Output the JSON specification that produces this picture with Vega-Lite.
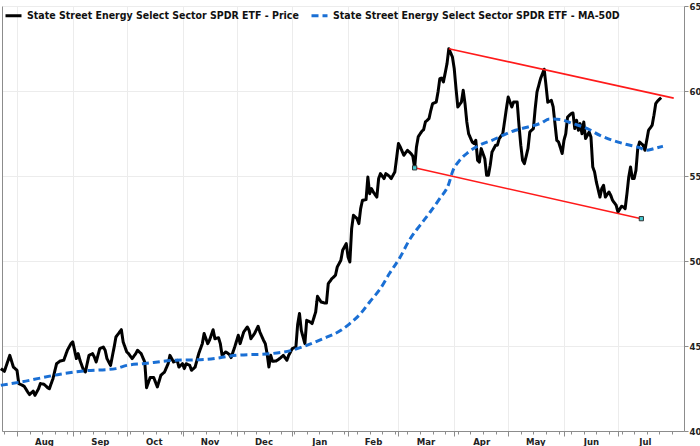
{
  "$schema": "https://vega.github.io/schema/vega-lite/v6.json",
  "width": 682,
  "height": 425,
  "autosize": {"type": "none"},
  "padding": {"left": 2, "top": 6, "right": 16, "bottom": 15},
  "background": "white",
  "config": {
    "view": {"stroke": null},
    "axis": {
      "labelFont": "DejaVu Sans Condensed, Liberation Sans, sans-serif",
      "labelFontWeight": "bold",
      "labelFontSize": 9.5,
      "labelColor": "#222",
      "domainColor": "#8c8c8c",
      "tickColor": "#8c8c8c",
      "gridColor": "#ececec",
      "title": null
    },
    "legend": {
      "orient": "none",
      "legendX": 2,
      "legendY": 0,
      "direction": "horizontal",
      "symbolType": "stroke",
      "symbolSize": 256,
      "symbolStrokeWidth": 3,
      "labelFont": "DejaVu Sans Condensed, Liberation Sans, sans-serif",
      "labelFontWeight": "bold",
      "labelFontSize": 10.5,
      "labelColor": "#111",
      "labelLimit": 600,
      "labelOffset": 4,
      "columnPadding": 6,
      "padding": 0
    }
  },
  "datasets": {
    "series": [
      {"s": "Price", "date": "2025-07-23", "value": 43.67},
      {"s": "Price", "date": "2025-07-25", "value": 43.51},
      {"s": "Price", "date": "2025-07-28", "value": 44.45},
      {"s": "Price", "date": "2025-07-30", "value": 43.76},
      {"s": "Price", "date": "2025-08-01", "value": 43.57},
      {"s": "Price", "date": "2025-08-02", "value": 42.79},
      {"s": "Price", "date": "2025-08-04", "value": 42.69},
      {"s": "Price", "date": "2025-08-05", "value": 42.63},
      {"s": "Price", "date": "2025-08-07", "value": 42.29},
      {"s": "Price", "date": "2025-08-08", "value": 42.14},
      {"s": "Price", "date": "2025-08-10", "value": 42.35},
      {"s": "Price", "date": "2025-08-11", "value": 42.10},
      {"s": "Price", "date": "2025-08-13", "value": 42.49},
      {"s": "Price", "date": "2025-08-14", "value": 42.79},
      {"s": "Price", "date": "2025-08-16", "value": 42.75},
      {"s": "Price", "date": "2025-08-18", "value": 42.55},
      {"s": "Price", "date": "2025-08-19", "value": 42.49},
      {"s": "Price", "date": "2025-08-21", "value": 43.08},
      {"s": "Price", "date": "2025-08-23", "value": 43.96},
      {"s": "Price", "date": "2025-08-25", "value": 44.12},
      {"s": "Price", "date": "2025-08-27", "value": 44.16},
      {"s": "Price", "date": "2025-08-29", "value": 44.75},
      {"s": "Price", "date": "2025-08-31", "value": 45.14},
      {"s": "Price", "date": "2025-09-01", "value": 45.24},
      {"s": "Price", "date": "2025-09-03", "value": 44.26},
      {"s": "Price", "date": "2025-09-04", "value": 44.55},
      {"s": "Price", "date": "2025-09-05", "value": 44.16},
      {"s": "Price", "date": "2025-09-07", "value": 43.57},
      {"s": "Price", "date": "2025-09-08", "value": 43.47},
      {"s": "Price", "date": "2025-09-10", "value": 44.45},
      {"s": "Price", "date": "2025-09-12", "value": 44.55},
      {"s": "Price", "date": "2025-09-13", "value": 44.35},
      {"s": "Price", "date": "2025-09-14", "value": 44.06},
      {"s": "Price", "date": "2025-09-16", "value": 44.85},
      {"s": "Price", "date": "2025-09-18", "value": 44.94},
      {"s": "Price", "date": "2025-09-19", "value": 44.75},
      {"s": "Price", "date": "2025-09-20", "value": 44.26},
      {"s": "Price", "date": "2025-09-22", "value": 43.86},
      {"s": "Price", "date": "2025-09-24", "value": 44.94},
      {"s": "Price", "date": "2025-09-25", "value": 45.53},
      {"s": "Price", "date": "2025-09-28", "value": 45.96},
      {"s": "Price", "date": "2025-09-29", "value": 45.24},
      {"s": "Price", "date": "2025-10-01", "value": 44.65},
      {"s": "Price", "date": "2025-10-02", "value": 44.55},
      {"s": "Price", "date": "2025-10-04", "value": 44.26},
      {"s": "Price", "date": "2025-10-06", "value": 44.55},
      {"s": "Price", "date": "2025-10-07", "value": 44.75},
      {"s": "Price", "date": "2025-10-09", "value": 44.55},
      {"s": "Price", "date": "2025-10-11", "value": 44.06},
      {"s": "Price", "date": "2025-10-12", "value": 42.55},
      {"s": "Price", "date": "2025-10-14", "value": 43.14},
      {"s": "Price", "date": "2025-10-16", "value": 43.14},
      {"s": "Price", "date": "2025-10-18", "value": 42.59},
      {"s": "Price", "date": "2025-10-20", "value": 43.28},
      {"s": "Price", "date": "2025-10-22", "value": 43.47},
      {"s": "Price", "date": "2025-10-24", "value": 43.96},
      {"s": "Price", "date": "2025-10-25", "value": 44.45},
      {"s": "Price", "date": "2025-10-27", "value": 44.06},
      {"s": "Price", "date": "2025-10-29", "value": 44.16},
      {"s": "Price", "date": "2025-10-30", "value": 43.76},
      {"s": "Price", "date": "2025-11-01", "value": 43.96},
      {"s": "Price", "date": "2025-11-02", "value": 43.67},
      {"s": "Price", "date": "2025-11-03", "value": 43.96},
      {"s": "Price", "date": "2025-11-05", "value": 43.86},
      {"s": "Price", "date": "2025-11-06", "value": 43.57},
      {"s": "Price", "date": "2025-11-08", "value": 43.76},
      {"s": "Price", "date": "2025-11-10", "value": 44.55},
      {"s": "Price", "date": "2025-11-12", "value": 45.14},
      {"s": "Price", "date": "2025-11-13", "value": 45.73},
      {"s": "Price", "date": "2025-11-15", "value": 45.14},
      {"s": "Price", "date": "2025-11-16", "value": 45.34},
      {"s": "Price", "date": "2025-11-18", "value": 45.96},
      {"s": "Price", "date": "2025-11-19", "value": 45.43},
      {"s": "Price", "date": "2025-11-21", "value": 45.49},
      {"s": "Price", "date": "2025-11-22", "value": 45.14},
      {"s": "Price", "date": "2025-11-23", "value": 44.45},
      {"s": "Price", "date": "2025-11-25", "value": 44.65},
      {"s": "Price", "date": "2025-11-27", "value": 44.51},
      {"s": "Price", "date": "2025-11-28", "value": 44.32},
      {"s": "Price", "date": "2025-11-30", "value": 44.94},
      {"s": "Price", "date": "2025-12-02", "value": 45.63},
      {"s": "Price", "date": "2025-12-03", "value": 45.14},
      {"s": "Price", "date": "2025-12-05", "value": 45.82},
      {"s": "Price", "date": "2025-12-07", "value": 46.12},
      {"s": "Price", "date": "2025-12-08", "value": 45.92},
      {"s": "Price", "date": "2025-12-09", "value": 45.43},
      {"s": "Price", "date": "2025-12-11", "value": 45.73},
      {"s": "Price", "date": "2025-12-13", "value": 46.16},
      {"s": "Price", "date": "2025-12-14", "value": 45.82},
      {"s": "Price", "date": "2025-12-16", "value": 45.34},
      {"s": "Price", "date": "2025-12-17", "value": 45.14},
      {"s": "Price", "date": "2025-12-18", "value": 44.55},
      {"s": "Price", "date": "2025-12-19", "value": 43.76},
      {"s": "Price", "date": "2025-12-20", "value": 44.45},
      {"s": "Price", "date": "2025-12-21", "value": 44.10},
      {"s": "Price", "date": "2025-12-23", "value": 44.12},
      {"s": "Price", "date": "2025-12-25", "value": 44.26},
      {"s": "Price", "date": "2025-12-27", "value": 44.45},
      {"s": "Price", "date": "2025-12-29", "value": 44.16},
      {"s": "Price", "date": "2025-12-30", "value": 44.45},
      {"s": "Price", "date": "2026-01-01", "value": 44.85},
      {"s": "Price", "date": "2026-01-03", "value": 44.94},
      {"s": "Price", "date": "2026-01-04", "value": 46.28},
      {"s": "Price", "date": "2026-01-05", "value": 46.91},
      {"s": "Price", "date": "2026-01-06", "value": 45.92},
      {"s": "Price", "date": "2026-01-08", "value": 45.14},
      {"s": "Price", "date": "2026-01-09", "value": 46.51},
      {"s": "Price", "date": "2026-01-11", "value": 46.41},
      {"s": "Price", "date": "2026-01-12", "value": 46.32},
      {"s": "Price", "date": "2026-01-14", "value": 47.00},
      {"s": "Price", "date": "2026-01-15", "value": 47.92},
      {"s": "Price", "date": "2026-01-17", "value": 47.59},
      {"s": "Price", "date": "2026-01-19", "value": 47.53},
      {"s": "Price", "date": "2026-01-20", "value": 47.53},
      {"s": "Price", "date": "2026-01-21", "value": 48.67},
      {"s": "Price", "date": "2026-01-23", "value": 48.96},
      {"s": "Price", "date": "2026-01-25", "value": 49.16},
      {"s": "Price", "date": "2026-01-26", "value": 49.65},
      {"s": "Price", "date": "2026-01-28", "value": 50.04},
      {"s": "Price", "date": "2026-01-29", "value": 50.63},
      {"s": "Price", "date": "2026-01-31", "value": 51.02},
      {"s": "Price", "date": "2026-02-01", "value": 50.24},
      {"s": "Price", "date": "2026-02-02", "value": 49.94},
      {"s": "Price", "date": "2026-02-03", "value": 51.91},
      {"s": "Price", "date": "2026-02-04", "value": 52.69},
      {"s": "Price", "date": "2026-02-06", "value": 52.49},
      {"s": "Price", "date": "2026-02-07", "value": 52.20},
      {"s": "Price", "date": "2026-02-08", "value": 53.08},
      {"s": "Price", "date": "2026-02-09", "value": 53.57},
      {"s": "Price", "date": "2026-02-11", "value": 53.61},
      {"s": "Price", "date": "2026-02-12", "value": 54.94},
      {"s": "Price", "date": "2026-02-13", "value": 53.96},
      {"s": "Price", "date": "2026-02-14", "value": 54.26},
      {"s": "Price", "date": "2026-02-15", "value": 54.06},
      {"s": "Price", "date": "2026-02-17", "value": 53.76},
      {"s": "Price", "date": "2026-02-18", "value": 54.85},
      {"s": "Price", "date": "2026-02-19", "value": 55.14},
      {"s": "Price", "date": "2026-02-21", "value": 54.85},
      {"s": "Price", "date": "2026-02-22", "value": 55.14},
      {"s": "Price", "date": "2026-02-24", "value": 54.98},
      {"s": "Price", "date": "2026-02-25", "value": 54.85},
      {"s": "Price", "date": "2026-02-27", "value": 55.24},
      {"s": "Price", "date": "2026-03-01", "value": 56.91},
      {"s": "Price", "date": "2026-03-02", "value": 56.71},
      {"s": "Price", "date": "2026-03-04", "value": 56.22},
      {"s": "Price", "date": "2026-03-06", "value": 56.51},
      {"s": "Price", "date": "2026-03-08", "value": 56.32},
      {"s": "Price", "date": "2026-03-09", "value": 56.16},
      {"s": "Price", "date": "2026-03-10", "value": 55.48},
      {"s": "Price", "date": "2026-03-11", "value": 56.69},
      {"s": "Price", "date": "2026-03-12", "value": 57.31},
      {"s": "Price", "date": "2026-03-14", "value": 57.63},
      {"s": "Price", "date": "2026-03-15", "value": 57.73},
      {"s": "Price", "date": "2026-03-16", "value": 58.18},
      {"s": "Price", "date": "2026-03-18", "value": 58.38},
      {"s": "Price", "date": "2026-03-19", "value": 58.86},
      {"s": "Price", "date": "2026-03-20", "value": 59.26},
      {"s": "Price", "date": "2026-03-22", "value": 59.35},
      {"s": "Price", "date": "2026-03-23", "value": 59.94},
      {"s": "Price", "date": "2026-03-24", "value": 60.73},
      {"s": "Price", "date": "2026-03-25", "value": 60.76},
      {"s": "Price", "date": "2026-03-26", "value": 60.53},
      {"s": "Price", "date": "2026-03-28", "value": 61.61},
      {"s": "Price", "date": "2026-03-29", "value": 62.49},
      {"s": "Price", "date": "2026-03-31", "value": 62.00},
      {"s": "Price", "date": "2026-04-01", "value": 61.32},
      {"s": "Price", "date": "2026-04-02", "value": 60.14},
      {"s": "Price", "date": "2026-04-03", "value": 59.06},
      {"s": "Price", "date": "2026-04-05", "value": 59.35},
      {"s": "Price", "date": "2026-04-06", "value": 60.04},
      {"s": "Price", "date": "2026-04-07", "value": 59.26},
      {"s": "Price", "date": "2026-04-08", "value": 58.18},
      {"s": "Price", "date": "2026-04-09", "value": 57.49},
      {"s": "Price", "date": "2026-04-11", "value": 57.00},
      {"s": "Price", "date": "2026-04-12", "value": 56.91},
      {"s": "Price", "date": "2026-04-13", "value": 57.10},
      {"s": "Price", "date": "2026-04-14", "value": 55.92},
      {"s": "Price", "date": "2026-04-15", "value": 55.82},
      {"s": "Price", "date": "2026-04-16", "value": 56.61},
      {"s": "Price", "date": "2026-04-18", "value": 56.02},
      {"s": "Price", "date": "2026-04-19", "value": 55.04},
      {"s": "Price", "date": "2026-04-20", "value": 55.04},
      {"s": "Price", "date": "2026-04-21", "value": 55.63},
      {"s": "Price", "date": "2026-04-22", "value": 56.41},
      {"s": "Price", "date": "2026-04-24", "value": 56.81},
      {"s": "Price", "date": "2026-04-25", "value": 56.81},
      {"s": "Price", "date": "2026-04-26", "value": 57.20},
      {"s": "Price", "date": "2026-04-28", "value": 57.49},
      {"s": "Price", "date": "2026-04-30", "value": 58.96},
      {"s": "Price", "date": "2026-05-01", "value": 59.65},
      {"s": "Price", "date": "2026-05-03", "value": 59.06},
      {"s": "Price", "date": "2026-05-04", "value": 59.35},
      {"s": "Price", "date": "2026-05-06", "value": 59.35},
      {"s": "Price", "date": "2026-05-07", "value": 57.98},
      {"s": "Price", "date": "2026-05-08", "value": 56.81},
      {"s": "Price", "date": "2026-05-09", "value": 55.92},
      {"s": "Price", "date": "2026-05-10", "value": 55.73},
      {"s": "Price", "date": "2026-05-12", "value": 56.61},
      {"s": "Price", "date": "2026-05-13", "value": 57.59},
      {"s": "Price", "date": "2026-05-15", "value": 57.79},
      {"s": "Price", "date": "2026-05-16", "value": 58.96},
      {"s": "Price", "date": "2026-05-17", "value": 59.94},
      {"s": "Price", "date": "2026-05-19", "value": 60.73},
      {"s": "Price", "date": "2026-05-21", "value": 61.28},
      {"s": "Price", "date": "2026-05-22", "value": 60.34},
      {"s": "Price", "date": "2026-05-23", "value": 59.34},
      {"s": "Price", "date": "2026-05-25", "value": 59.45},
      {"s": "Price", "date": "2026-05-26", "value": 59.06},
      {"s": "Price", "date": "2026-05-27", "value": 58.08},
      {"s": "Price", "date": "2026-05-28", "value": 57.10},
      {"s": "Price", "date": "2026-05-29", "value": 57.00},
      {"s": "Price", "date": "2026-05-30", "value": 56.67},
      {"s": "Price", "date": "2026-05-31", "value": 56.32},
      {"s": "Price", "date": "2026-06-01", "value": 57.10},
      {"s": "Price", "date": "2026-06-02", "value": 57.49},
      {"s": "Price", "date": "2026-06-03", "value": 58.47},
      {"s": "Price", "date": "2026-06-05", "value": 58.67},
      {"s": "Price", "date": "2026-06-06", "value": 58.71},
      {"s": "Price", "date": "2026-06-07", "value": 57.79},
      {"s": "Price", "date": "2026-06-08", "value": 58.28},
      {"s": "Price", "date": "2026-06-09", "value": 57.69},
      {"s": "Price", "date": "2026-06-10", "value": 58.08},
      {"s": "Price", "date": "2026-06-11", "value": 57.49},
      {"s": "Price", "date": "2026-06-12", "value": 58.18},
      {"s": "Price", "date": "2026-06-13", "value": 57.20},
      {"s": "Price", "date": "2026-06-15", "value": 57.59},
      {"s": "Price", "date": "2026-06-16", "value": 57.29},
      {"s": "Price", "date": "2026-06-17", "value": 55.53},
      {"s": "Price", "date": "2026-06-18", "value": 55.24},
      {"s": "Price", "date": "2026-06-19", "value": 54.65},
      {"s": "Price", "date": "2026-06-21", "value": 53.76},
      {"s": "Price", "date": "2026-06-22", "value": 54.26},
      {"s": "Price", "date": "2026-06-23", "value": 54.45},
      {"s": "Price", "date": "2026-06-24", "value": 53.76},
      {"s": "Price", "date": "2026-06-26", "value": 54.06},
      {"s": "Price", "date": "2026-06-27", "value": 53.86},
      {"s": "Price", "date": "2026-06-28", "value": 53.57},
      {"s": "Price", "date": "2026-06-30", "value": 53.28},
      {"s": "Price", "date": "2026-07-01", "value": 52.88},
      {"s": "Price", "date": "2026-07-03", "value": 53.22},
      {"s": "Price", "date": "2026-07-04", "value": 53.18},
      {"s": "Price", "date": "2026-07-05", "value": 53.08},
      {"s": "Price", "date": "2026-07-06", "value": 53.96},
      {"s": "Price", "date": "2026-07-07", "value": 54.94},
      {"s": "Price", "date": "2026-07-08", "value": 55.53},
      {"s": "Price", "date": "2026-07-09", "value": 54.85},
      {"s": "Price", "date": "2026-07-10", "value": 54.85},
      {"s": "Price", "date": "2026-07-11", "value": 55.33},
      {"s": "Price", "date": "2026-07-12", "value": 56.61},
      {"s": "Price", "date": "2026-07-13", "value": 57.00},
      {"s": "Price", "date": "2026-07-15", "value": 56.81},
      {"s": "Price", "date": "2026-07-16", "value": 56.51},
      {"s": "Price", "date": "2026-07-17", "value": 57.10},
      {"s": "Price", "date": "2026-07-18", "value": 57.69},
      {"s": "Price", "date": "2026-07-20", "value": 57.98},
      {"s": "Price", "date": "2026-07-21", "value": 58.57},
      {"s": "Price", "date": "2026-07-22", "value": 59.26},
      {"s": "Price", "date": "2026-07-23", "value": 59.41},
      {"s": "Price", "date": "2026-07-25", "value": 59.61},
      {"s": "MA-50D", "date": "2025-07-23", "value": 42.69},
      {"s": "MA-50D", "date": "2025-08-03", "value": 42.88},
      {"s": "MA-50D", "date": "2025-08-25", "value": 43.34},
      {"s": "MA-50D", "date": "2025-09-07", "value": 43.53},
      {"s": "MA-50D", "date": "2025-09-25", "value": 43.67},
      {"s": "MA-50D", "date": "2025-10-01", "value": 43.86},
      {"s": "MA-50D", "date": "2025-10-10", "value": 43.96},
      {"s": "MA-50D", "date": "2025-10-28", "value": 44.16},
      {"s": "MA-50D", "date": "2025-11-13", "value": 44.20},
      {"s": "MA-50D", "date": "2025-12-01", "value": 44.45},
      {"s": "MA-50D", "date": "2025-12-20", "value": 44.55},
      {"s": "MA-50D", "date": "2025-12-31", "value": 44.73},
      {"s": "MA-50D", "date": "2026-01-09", "value": 45.04},
      {"s": "MA-50D", "date": "2026-01-18", "value": 45.43},
      {"s": "MA-50D", "date": "2026-01-28", "value": 45.92},
      {"s": "MA-50D", "date": "2026-02-02", "value": 46.32},
      {"s": "MA-50D", "date": "2026-02-08", "value": 46.91},
      {"s": "MA-50D", "date": "2026-02-13", "value": 47.59},
      {"s": "MA-50D", "date": "2026-02-19", "value": 48.38},
      {"s": "MA-50D", "date": "2026-02-24", "value": 49.26},
      {"s": "MA-50D", "date": "2026-03-02", "value": 50.24},
      {"s": "MA-50D", "date": "2026-03-07", "value": 51.22},
      {"s": "MA-50D", "date": "2026-03-13", "value": 52.10},
      {"s": "MA-50D", "date": "2026-03-18", "value": 52.79},
      {"s": "MA-50D", "date": "2026-03-24", "value": 53.68},
      {"s": "MA-50D", "date": "2026-03-29", "value": 54.55},
      {"s": "MA-50D", "date": "2026-03-31", "value": 55.24},
      {"s": "MA-50D", "date": "2026-04-04", "value": 55.92},
      {"s": "MA-50D", "date": "2026-04-09", "value": 56.41},
      {"s": "MA-50D", "date": "2026-04-15", "value": 56.81},
      {"s": "MA-50D", "date": "2026-04-22", "value": 57.10},
      {"s": "MA-50D", "date": "2026-04-28", "value": 57.39},
      {"s": "MA-50D", "date": "2026-05-05", "value": 57.69},
      {"s": "MA-50D", "date": "2026-05-12", "value": 57.88},
      {"s": "MA-50D", "date": "2026-05-19", "value": 58.10},
      {"s": "MA-50D", "date": "2026-05-24", "value": 58.35},
      {"s": "MA-50D", "date": "2026-05-30", "value": 58.32},
      {"s": "MA-50D", "date": "2026-06-06", "value": 58.08},
      {"s": "MA-50D", "date": "2026-06-14", "value": 57.79},
      {"s": "MA-50D", "date": "2026-06-21", "value": 57.39},
      {"s": "MA-50D", "date": "2026-06-28", "value": 57.10},
      {"s": "MA-50D", "date": "2026-07-06", "value": 56.85},
      {"s": "MA-50D", "date": "2026-07-13", "value": 56.67},
      {"s": "MA-50D", "date": "2026-07-17", "value": 56.51},
      {"s": "MA-50D", "date": "2026-07-21", "value": 56.61},
      {"s": "MA-50D", "date": "2026-07-26", "value": 56.75}
    ],
    "channel": [
      {"line": "upper", "date": "2026-03-29", "value": 62.49},
      {"line": "upper", "date": "2026-08-01", "value": 59.58},
      {"line": "lower", "date": "2026-03-10", "value": 55.48},
      {"line": "lower", "date": "2026-07-14", "value": 52.49}
    ]
  },
  "encoding": {
    "x": {
      "field": "date",
      "type": "temporal",
      "scale": {
        "type": "utc",
        "nice": false,
        "domain": [
          {"year": 2025, "month": 7, "date": 23, "hours": 16, "utc": true},
          {"year": 2026, "month": 8, "date": 6, "hours": 17, "utc": true}
        ]
      },
      "axis": {
        "values": [
          {"year": 2025, "month": 7, "date": 25, "utc": true},
          {"year": 2025, "month": 8, "date": 1, "utc": true},
          {"year": 2025, "month": 8, "date": 8, "utc": true},
          {"year": 2025, "month": 8, "date": 15, "utc": true},
          {"year": 2025, "month": 8, "date": 22, "utc": true},
          {"year": 2025, "month": 8, "date": 29, "utc": true},
          {"year": 2025, "month": 9, "date": 1, "utc": true},
          {"year": 2025, "month": 9, "date": 5, "utc": true},
          {"year": 2025, "month": 9, "date": 12, "utc": true},
          {"year": 2025, "month": 9, "date": 19, "utc": true},
          {"year": 2025, "month": 9, "date": 26, "utc": true},
          {"year": 2025, "month": 10, "date": 1, "utc": true},
          {"year": 2025, "month": 10, "date": 3, "utc": true},
          {"year": 2025, "month": 10, "date": 10, "utc": true},
          {"year": 2025, "month": 10, "date": 17, "utc": true},
          {"year": 2025, "month": 10, "date": 24, "utc": true},
          {"year": 2025, "month": 10, "date": 31, "utc": true},
          {"year": 2025, "month": 11, "date": 1, "utc": true},
          {"year": 2025, "month": 11, "date": 7, "utc": true},
          {"year": 2025, "month": 11, "date": 14, "utc": true},
          {"year": 2025, "month": 11, "date": 21, "utc": true},
          {"year": 2025, "month": 11, "date": 28, "utc": true},
          {"year": 2025, "month": 12, "date": 1, "utc": true},
          {"year": 2025, "month": 12, "date": 5, "utc": true},
          {"year": 2025, "month": 12, "date": 12, "utc": true},
          {"year": 2025, "month": 12, "date": 19, "utc": true},
          {"year": 2025, "month": 12, "date": 26, "utc": true},
          {"year": 2026, "month": 1, "date": 1, "utc": true},
          {"year": 2026, "month": 1, "date": 2, "utc": true},
          {"year": 2026, "month": 1, "date": 9, "utc": true},
          {"year": 2026, "month": 1, "date": 16, "utc": true},
          {"year": 2026, "month": 1, "date": 23, "utc": true},
          {"year": 2026, "month": 1, "date": 30, "utc": true},
          {"year": 2026, "month": 2, "date": 1, "utc": true},
          {"year": 2026, "month": 2, "date": 6, "utc": true},
          {"year": 2026, "month": 2, "date": 13, "utc": true},
          {"year": 2026, "month": 2, "date": 20, "utc": true},
          {"year": 2026, "month": 2, "date": 27, "utc": true},
          {"year": 2026, "month": 3, "date": 1, "utc": true},
          {"year": 2026, "month": 3, "date": 6, "utc": true},
          {"year": 2026, "month": 3, "date": 13, "utc": true},
          {"year": 2026, "month": 3, "date": 20, "utc": true},
          {"year": 2026, "month": 3, "date": 27, "utc": true},
          {"year": 2026, "month": 4, "date": 1, "utc": true},
          {"year": 2026, "month": 4, "date": 3, "utc": true},
          {"year": 2026, "month": 4, "date": 10, "utc": true},
          {"year": 2026, "month": 4, "date": 17, "utc": true},
          {"year": 2026, "month": 4, "date": 24, "utc": true},
          {"year": 2026, "month": 5, "date": 1, "utc": true},
          {"year": 2026, "month": 5, "date": 8, "utc": true},
          {"year": 2026, "month": 5, "date": 15, "utc": true},
          {"year": 2026, "month": 5, "date": 22, "utc": true},
          {"year": 2026, "month": 5, "date": 29, "utc": true},
          {"year": 2026, "month": 6, "date": 1, "utc": true},
          {"year": 2026, "month": 6, "date": 5, "utc": true},
          {"year": 2026, "month": 6, "date": 12, "utc": true},
          {"year": 2026, "month": 6, "date": 19, "utc": true},
          {"year": 2026, "month": 6, "date": 26, "utc": true},
          {"year": 2026, "month": 7, "date": 1, "utc": true},
          {"year": 2026, "month": 7, "date": 3, "utc": true},
          {"year": 2026, "month": 7, "date": 10, "utc": true},
          {"year": 2026, "month": 7, "date": 17, "utc": true},
          {"year": 2026, "month": 7, "date": 24, "utc": true},
          {"year": 2026, "month": 7, "date": 31, "utc": true}
        ],
        "labelExpr": "utcdate(datum.value) === 1 ? utcFormat(datum.value, '%b') : ''",
        "labelOverlap": false,
        "labelFlush": false,
        "labelPadding": 0,
        "labelOffset": {"condition": {"test": "utcmonth(datum.value) === 1", "value": 25}, "value": 27},
        "tickSize": {"condition": {"test": "utcdate(datum.value) === 1", "value": 5}, "value": 3},
        "gridOpacity": {"condition": {"test": "utcdate(datum.value) === 1", "value": 1}, "value": 0},
        "grid": true
      }
    }
  },
  "layer": [
    {
      "data": {"name": "series"},
      "transform": [{"filter": "datum.s === 'Price'"}],
      "mark": {"type": "line", "strokeWidth": 3, "strokeJoin": "round"},
      "encoding": {
        "y": {
          "field": "value",
          "type": "quantitative",
          "scale": {"domain": [40, 65], "nice": false, "zero": false},
          "axis": {"orient": "right", "values": [40, 45, 50, 55, 60, 65], "tickSize": 4, "labelPadding": 1, "grid": true}
        },
        "color": {
          "field": "s",
          "type": "nominal",
          "scale": {"domain": ["Price", "MA-50D"], "range": ["#000000", "#1a6fd4"]},
          "legend": {"title": null, "labelExpr": "'State Street Energy Select Sector SPDR ETF - ' + datum.label"}
        },
        "strokeDash": {
          "field": "s",
          "type": "nominal",
          "scale": {"domain": ["Price", "MA-50D"], "range": [[1, 0], [7, 4]]},
          "legend": {"title": null, "labelExpr": "'State Street Energy Select Sector SPDR ETF - ' + datum.label"}
        }
      }
    },
    {
      "data": {"name": "series"},
      "transform": [{"filter": "datum.s === 'MA-50D'"}],
      "mark": {"type": "line", "strokeWidth": 3, "interpolate": "monotone"},
      "encoding": {
        "y": {
          "field": "value",
          "type": "quantitative",
          "scale": {"domain": [40, 65], "nice": false, "zero": false},
          "axis": {"orient": "left", "labels": false, "ticks": false, "grid": false, "domain": true}
        },
        "color": {
          "field": "s",
          "type": "nominal",
          "scale": {"domain": ["Price", "MA-50D"], "range": ["#000000", "#1a6fd4"]},
          "legend": {"title": null, "labelExpr": "'State Street Energy Select Sector SPDR ETF - ' + datum.label"}
        },
        "strokeDash": {
          "field": "s",
          "type": "nominal",
          "scale": {"domain": ["Price", "MA-50D"], "range": [[1, 0], [7, 4]]},
          "legend": {"title": null, "labelExpr": "'State Street Energy Select Sector SPDR ETF - ' + datum.label"}
        }
      }
    },
    {
      "data": {"name": "channel"},
      "mark": {"type": "line", "color": "#ff1a1a", "strokeWidth": 1.6},
      "encoding": {
        "y": {"field": "value", "type": "quantitative", "scale": {"domain": [40, 65], "nice": false, "zero": false}, "axis": null},
        "detail": {"field": "line"}
      }
    },
    {
      "data": {"name": "channel"},
      "transform": [{"filter": "datum.line === 'lower'"}],
      "mark": {"type": "point", "shape": "square", "size": 18, "filled": true, "fill": "#45c8d0", "stroke": "#333333", "strokeWidth": 1, "opacity": 1},
      "encoding": {
        "y": {"field": "value", "type": "quantitative", "scale": {"domain": [40, 65], "nice": false, "zero": false}, "axis": null}
      }
    }
  ],
  "resolve": {"axis": {"y": "independent"}}
}
